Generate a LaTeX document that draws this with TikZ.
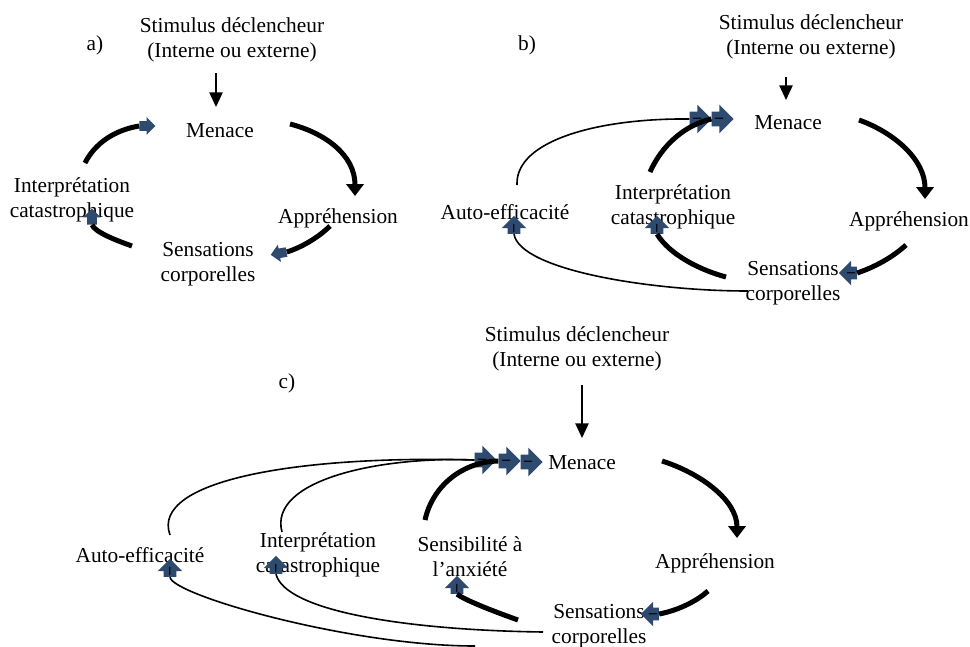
\documentclass[tikz,border=0pt]{standalone}
\usepackage{fontspec}
\setmainfont{Liberation Serif}
\usepackage{xcolor}
\usepackage{tikz}
\usetikzlibrary{arrows.meta}
\usetikzlibrary{shapes.arrows}
\definecolor{arrblue}{RGB}{46,74,110}
\newcommand{\negmark}{\raisebox{-2.7pt}{–}}

\begin{document}
\begin{tikzpicture}[>=Stealth, x=0.75pt, y=-0.75pt,
	lbl/.style={align=center, inner sep=0pt, font={\fontsize{16}{18.5}\selectfont}},
	blk/.style={single arrow, fill=arrblue, inner xsep=0pt, text height=0pt, text depth=0pt, text=black, font={\fontsize{12}{12}\selectfont\bfseries}},
	arrbig/.style={blk, inner ysep=5.25pt, minimum height=16.5pt, minimum width=21pt, single arrow head extend=5.25pt, rotate=#1},
	arrbig/.default=0,
	arrmid/.style={blk, inner ysep=4.5pt, minimum height=13.5pt, minimum width=18pt, single arrow head extend=4.5pt, rotate=#1},
	arrmid/.default=0,
	arrsml/.style={blk, inner ysep=3.4pt, minimum height=12pt, minimum width=12.75pt, single arrow head extend=3pt, rotate=#1},
	arrsml/.default=0,
	loopline/.style={line width=3.75pt},
	linkline/.style={line width=1.2pt},
	tipdown/.style={-{Triangle[width=13pt,length=9pt]}},
	stim/.style={line width=1.1pt, -{Triangle[width=10pt,length=11pt]}}]
	\useasboundingbox (0,0) rectangle (970,646);

	% a)
	\foreach \n/\x/\y/\t in {lblA/95/45/{a)}, stimA/232/40/{Stimulus déclencheur\\(Interne ou externe)},
		menA/220/131/Menace, appA/338/218/Appréhension, senA/208/264/{Sensations\\corporelles},
		intA/72/200/{Interprétation\\catastrophique}}{
		\node[lbl] (\n) at (\x,\y) {\t};
	}
	\node[arrsml=0] (arA1) at (145,126) {};
	\node[arrsml=190] (arA2) at (281,253) {};
	\node[arrsml=90] (arA3) at (92,219) {};

	\coordinate (sA) at (216,73);
	\coordinate (tA) at (216,107);
	\draw[stim] (sA) -- (tA);
	\draw[loopline, tipdown] (290,124) .. controls (325,133) and (355,155) .. (355,196);
	\draw[loopline] (330,226) .. controls (318,238) and (300,248) .. (arA2.tail);
	\draw[loopline] (132,246) .. controls (115,240) and (95,232) .. (arA3.tail);
	\draw[loopline] (85,163) .. controls (95,143) and (115,130) .. (arA1.tail);

	% b)
	\foreach \n/\x/\y/\t in {lblB/527/45/{b)}, stimB/811/37/{Stimulus déclencheur\\(Interne ou externe)},
		menB/788/123/Menace, appB/909/221/Appréhension, senB/793/283/{Sensations\\corporelles},
		intB/673/207/{Interprétation\\catastrophique}, autoB/505/212/Auto-efficacité}{
		\node[lbl] (\n) at (\x,\y) {\t};
	}
	\node[arrbig] (arB1) at (697,119) {\negmark};
	\node[arrbig] (arB2) at (719,119) {\negmark};
	\node[arrmid=180] (arB3) at (851,273) {\negmark};
	\node[arrmid=90] (arB4) at (657,228) {\negmark};
	\node[arrmid=90] (arB5) at (514,228) {\negmark};

	\coordinate (sB) at (786,77);
	\coordinate (tB) at (786,100);
	\draw[stim] (sB) -- (tB);
	\draw[loopline, tipdown] (859,120) .. controls (895,133) and (925,160) .. (925,199);
	\draw[loopline] (906,245) .. controls (893,257) and (875,267) .. (arB3.tail);
	\draw[loopline] (726,277) .. controls (700,270) and (670,255) .. (arB4.tail);
	\draw[loopline] (650,172) .. controls (662,145) and (685,125) .. (arB2.tail);
	\draw[linkline] (517,185) .. controls (515,140) and (600,118) .. (arB1.tail);
	\draw[linkline] (748,291) .. controls (650,291) and (520,270) .. (arB5.tail);

	% c)
	\foreach \n/\x/\y/\t in {lblC/287/383/{c)}, stimC/577/349/{Stimulus déclencheur\\(Interne ou externe)},
		menC/582/463/Menace, appC/715/563/Appréhension, senC/599/626/{Sensations\\corporelles},
		sensiC/470/557/{Sensibilité à\\l’anxiété}, intC/318/555/{Interprétation\\catastrophique},
		autoC/140/555/Auto-efficacité}{
		\node[lbl] (\n) at (\x,\y) {\t};
	}
	\node[arrbig] (arC1) at (482,460) {\negmark};
	\node[arrbig] (arC2) at (506,461) {\negmark};
	\node[arrbig] (arC3) at (528,462) {\negmark};
	\node[arrmid=180] (arC4) at (653,614) {\negmark};
	\node[arrmid=90] (arC5) at (457,588) {\negmark};
	\node[arrmid=90] (arC6) at (276,568) {\negmark};
	\node[arrmid=90] (arC7) at (170,571) {\negmark};

	\coordinate (sC) at (582,385);
	\coordinate (tC) at (582,438);
	\coordinate (bC) at (475,646);
	\draw[stim] (sC) -- (tC);
	\draw[loopline, tipdown] (662,461) .. controls (700,473) and (737,500) .. (737,538);
	\draw[loopline] (708,591) .. controls (698,600) and (680,610) .. (arC4.tail);
	\draw[loopline] (518,620) .. controls (490,610) and (465,600) .. (arC5.tail);
	\draw[loopline] (425,520) .. controls (432,488) and (460,462) .. (arC2.tail);
	\draw[linkline] (170,535) .. controls (150,480) and (300,455) .. (arC1.tail);
	\draw[linkline] (282,532) .. controls (268,480) and (380,456) .. (arC1.tail);
	\draw[linkline] (543,632) .. controls (400,630) and (285,610) .. (arC6.tail);
	\draw[linkline] (bC) .. controls (350,646) and (172,595) .. (arC7.tail);
\end{tikzpicture}
\end{document}
